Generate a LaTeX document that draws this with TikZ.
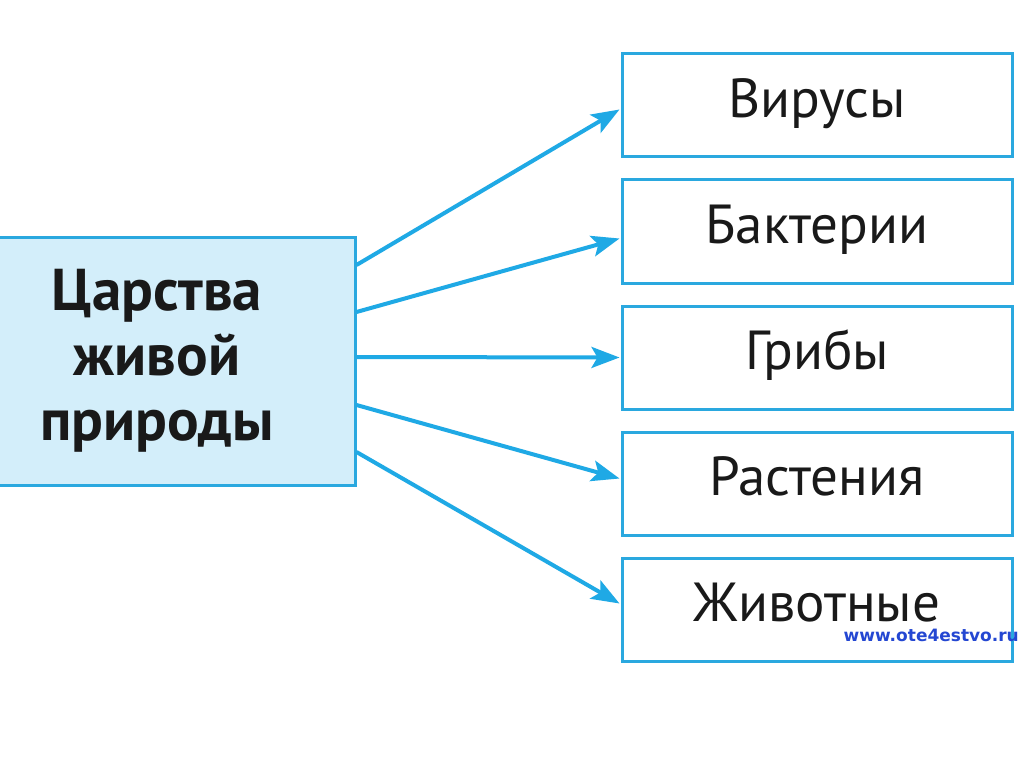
\documentclass[tikz,border=0pt]{standalone}
\usepackage{fontspec}
\setmainfont{PT Sans}
\newfontfamily\wmfont{DejaVu Sans}
\usetikzlibrary{arrows.meta}
\definecolor{lineblue}{HTML}{1FA9E5}
\definecolor{boxblue}{HTML}{2AA8DF}
\definecolor{fillblue}{HTML}{D3EEFA}
\definecolor{wmblue}{HTML}{2447D2}
\begin{document}
\begin{tikzpicture}[x=1pt,y=-1pt,
  kingbox/.style={draw=boxblue,line width=3pt,minimum width=390pt,minimum height=103pt,inner sep=0pt,
    text height=36pt,text depth=12pt,
    font=\fontsize{55}{66}\selectfont,text=black!90},
  mainbox/.style={draw=boxblue,fill=fillblue,line width=3pt,minimum width=396pt,minimum height=248pt,inner sep=0pt,
    align=center,font=\bfseries\fontsize{59}{65}\selectfont,text=black!90},
  arr/.style={draw=lineblue,line width=4pt,-{Stealth[length=28pt,width=21pt,inset=6pt]}}]
\useasboundingbox (0,0) rectangle (1024,767);
\fill[white] (0,0) rectangle (1024,767);
\begin{scope}
\clip (0,0) rectangle (1024,767);
\node[mainbox] (L) at (157,361) {Царства\\живой\\природы};
\end{scope}
\node[kingbox] (k1) at (817,105.5) {Вирусы};
\node[kingbox] (k2) at (817,231.5) {Бактерии};
\node[kingbox] (k3) at (817,357.5) {Грибы};
\node[kingbox] (k4) at (817,483.5) {Растения};
\node[kingbox] (k5) at (817,609.5) {Животные};
\node[font=\wmfont\bfseries\fontsize{17}{20}\selectfont,text=wmblue,anchor=east,inner sep=0pt] (wm) at (1019,635) {www.ote4estvo.ru};
\draw[arr] ([yshift=96pt]L.east) -- ([yshift=-4pt,xshift=-1pt]k1.west);
\draw[arr] ([yshift=49pt]L.east) -- ([yshift=-7pt,xshift=-1pt]k2.west);
\draw[arr] ([yshift=4pt]L.east) -- ([yshift=0pt,xshift=-1pt]k3.west);
\draw[arr] ([yshift=-44pt]L.east) -- ([yshift=5pt,xshift=-1pt]k4.west);
\draw[arr] ([yshift=-91pt]L.east) -- ([yshift=6pt,xshift=-1pt]k5.west);
\end{tikzpicture}
\end{document}
